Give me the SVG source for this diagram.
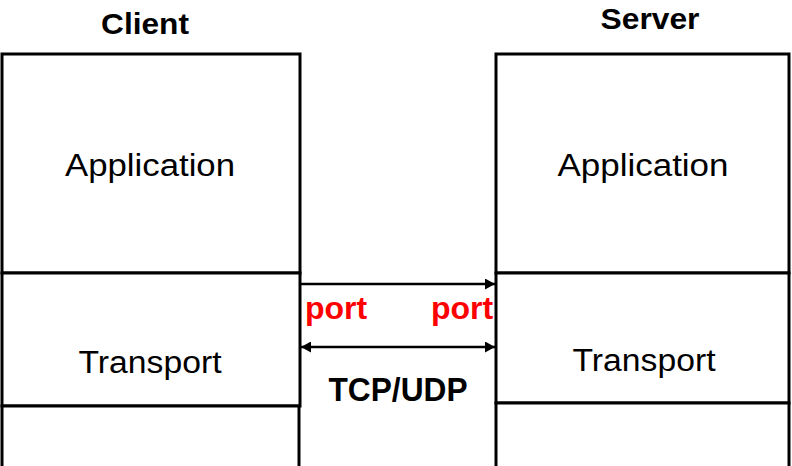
<svg xmlns="http://www.w3.org/2000/svg" width="792" height="466" viewBox="0 0 792 466">
<defs>
<marker id="ah" viewBox="0 0 10 11" refX="10" refY="5.5" markerWidth="11" markerHeight="11" markerUnits="userSpaceOnUse" orient="auto-start-reverse">
<path d="M0,0 L10,5.5 L0,11 z" fill="#000"/>
</marker>
<style>
.box{fill:#fff;stroke:#000;stroke-width:3}
.lbl{font-family:"Liberation Sans",Arial,sans-serif;font-size:31px;fill:#000;text-anchor:middle}
.ttl{font-family:"Liberation Sans",Arial,sans-serif;font-size:30px;font-weight:bold;fill:#000;text-anchor:middle}
.port{font-family:"Liberation Sans",Arial,sans-serif;font-size:32px;font-weight:bold;fill:#ff0000}
.con{stroke:#000;stroke-width:2.5;fill:none}
</style>
</defs>
<rect width="792" height="466" fill="#fff"/>
<g id="client">
<text class="ttl" x="145" y="34" textLength="88" lengthAdjust="spacingAndGlyphs">Client</text>
<rect class="box" x="2" y="54" width="298" height="219"/>
<rect class="box" x="2" y="273" width="298" height="133"/>
<rect class="box" x="2" y="406" width="297" height="70"/>
<text class="lbl" x="150" y="176" textLength="170" lengthAdjust="spacingAndGlyphs">Application</text>
<text class="lbl" x="150" y="373" textLength="143" lengthAdjust="spacingAndGlyphs">Transport</text>
</g>
<g id="server">
<text class="ttl" x="650" y="29" textLength="99" lengthAdjust="spacingAndGlyphs">Server</text>
<rect class="box" x="496" y="54" width="293" height="219"/>
<rect class="box" x="496" y="273" width="293" height="130"/>
<rect class="box" x="496" y="403" width="293" height="70"/>
<text class="lbl" x="643" y="176" textLength="171" lengthAdjust="spacingAndGlyphs">Application</text>
<text class="lbl" x="644" y="371" textLength="143" lengthAdjust="spacingAndGlyphs">Transport</text>
</g>
<g id="connectors">
<line class="con" x1="301" y1="284" x2="495" y2="284" marker-end="url(#ah)"/>
<line class="con" x1="301" y1="347" x2="495" y2="347" marker-start="url(#ah)" marker-end="url(#ah)"/>
</g>
<g id="labels">
<text class="port" x="305" y="319">port</text>
<text class="port" x="431" y="319">port</text>
<text class="ttl" x="398" y="401" style="font-size:33px" textLength="139" lengthAdjust="spacingAndGlyphs">TCP/UDP</text>
</g>
</svg>
